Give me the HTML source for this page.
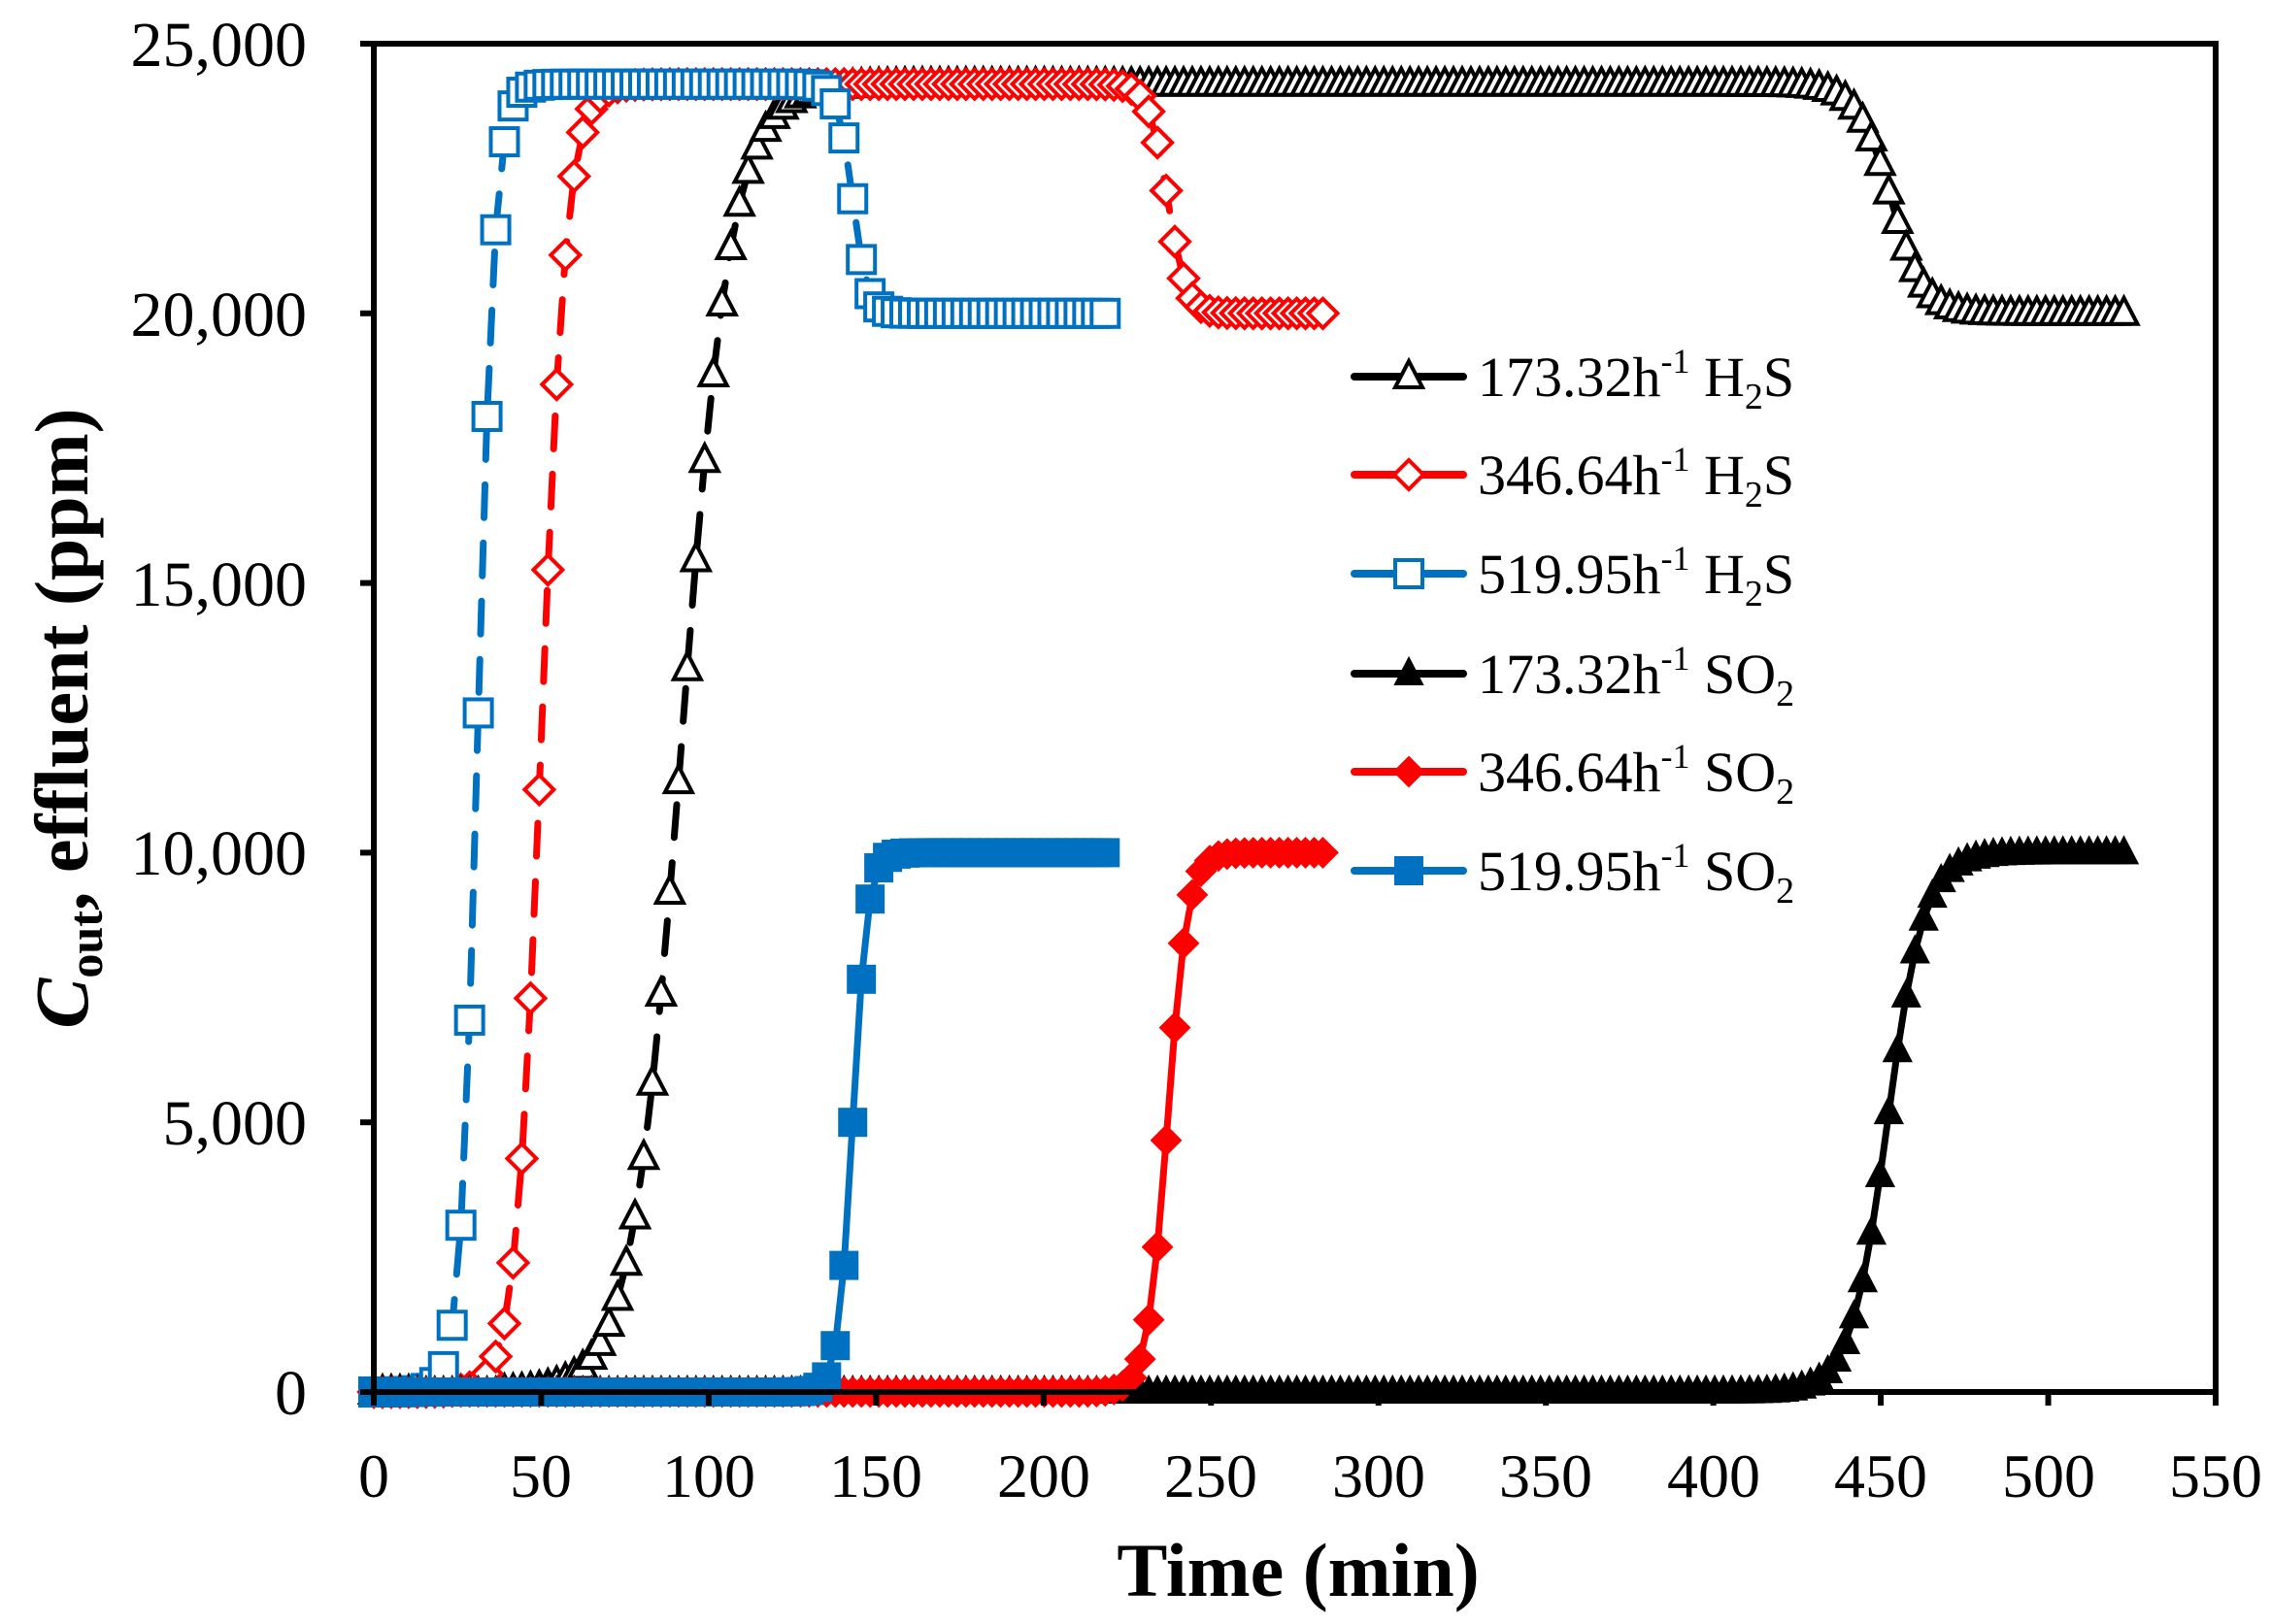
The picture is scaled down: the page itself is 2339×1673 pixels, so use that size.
<!DOCTYPE html>
<html><head><meta charset="utf-8"><style>
body{margin:0;background:#fff}
svg{display:block}
text{font-family:"Liberation Serif",serif;fill:#000}
</style></head><body>
<svg id="s" width="2339" height="1673" viewBox="0 0 2339 1673" xmlns="http://www.w3.org/2000/svg">
<rect width="2339" height="1673" fill="#fff"/>
<g id="data"></g>
<rect x="385" y="45" width="1897" height="1389" fill="none" stroke="#000" stroke-width="6"/>
<g stroke="#000" stroke-width="6" id="ticks"></g>
<g font-size="66" text-anchor="end">
<text x="316" y="1457">0</text>
<text x="316" y="1179">5,000</text>
<text x="316" y="901">10,000</text>
<text x="316" y="624">15,000</text>
<text x="316" y="346">20,000</text>
<text x="316" y="68">25,000</text>
</g>
<g font-size="64" text-anchor="middle">
<text x="385" y="1542">0</text>
<text x="557" y="1542">50</text>
<text x="730" y="1542">100</text>
<text x="902" y="1542">150</text>
<text x="1075" y="1542">200</text>
<text x="1247" y="1542">250</text>
<text x="1420" y="1542">300</text>
<text x="1592" y="1542">350</text>
<text x="1765" y="1542">400</text>
<text x="1937" y="1542">450</text>
<text x="2110" y="1542">500</text>
<text x="2282" y="1542">550</text>
</g>
<text x="1337" y="1644" font-size="78" font-weight="bold" text-anchor="middle">Time (min)</text>
<text transform="translate(90,740) rotate(-90)" font-size="78" font-weight="bold" text-anchor="middle"><tspan font-style="italic">C</tspan><tspan font-size="50" dy="15">out</tspan><tspan dy="-15">, effluent  (ppm)</tspan></text>
<g id="legend"></g>
<g font-size="58">
<text x="1522" y="408">173.32h<tspan font-size="36" dy="-24">-1</tspan><tspan dy="24"> H</tspan><tspan font-size="38" dy="13">2</tspan><tspan dy="-13">S</tspan></text>
<text x="1522" y="509">346.64h<tspan font-size="36" dy="-24">-1</tspan><tspan dy="24"> H</tspan><tspan font-size="38" dy="13">2</tspan><tspan dy="-13">S</tspan></text>
<text x="1522" y="611">519.95h<tspan font-size="36" dy="-24">-1</tspan><tspan dy="24"> H</tspan><tspan font-size="38" dy="13">2</tspan><tspan dy="-13">S</tspan></text>
<text x="1522" y="714">173.32h<tspan font-size="36" dy="-24">-1</tspan><tspan dy="24"> SO</tspan><tspan font-size="38" dy="13">2</tspan></text>
<text x="1522" y="815">346.64h<tspan font-size="36" dy="-24">-1</tspan><tspan dy="24"> SO</tspan><tspan font-size="38" dy="13">2</tspan></text>
<text x="1522" y="917">519.95h<tspan font-size="36" dy="-24">-1</tspan><tspan dy="24"> SO</tspan><tspan font-size="38" dy="13">2</tspan></text>
</g>
</svg>
<script>
(function(){
var NS="http://www.w3.org/2000/svg";
function X(t){return 385+t*3.4491;}
function Y(v){return 1434-v*0.05556;}
function el(n,a,p){var e=document.createElementNS(NS,n);for(var k in a)e.setAttribute(k,a[k]);p.appendChild(e);return e;}
var tk=document.getElementById('ticks');
for(var i=0;i<=5;i++){var y=Y(i*5000);el('line',{x1:371,y1:y,x2:385,y2:y},tk);}
for(var i=0;i<=11;i++){var x=X(i*50);el('line',{x1:x,y1:1434,x2:x,y2:1448},tk);}
function sig(t,m,s){return 1/(1+Math.exp(-(t-m)/s));}
function h2s(m1,s1,m2,s2,end){return {end:end,f:function(t){return 24250*sig(t,m1,s1)-4250*sig(t,m2,s2);}};}
function so2(m,s,end){return {end:end,f:function(t){return 10000*sig(t,m,s);}};}
var BL="#0070C0",RD="#FF0000",BK="#000";
var series=[
 {d:h2s(92,7.5,453,5,525),c:BK,m:'tri',fill:false,dash:true,step:2.6},
 {d:h2s(50,3.8,237,2.8,285),c:RD,m:'dia',fill:false,dash:true,step:2.6},
 {d:h2s(31,2.6,143,2.2,220),c:BL,m:'sq',fill:false,dash:true,step:2.6},
 {d:so2(452,5.5,525),c:BK,m:'tri',fill:true,dash:false,step:2.6},
 {d:so2(237,3,285),c:RD,m:'dia',fill:true,dash:false,step:2.6},
 {d:so2(143,2.2,220),c:BL,m:'sq',fill:true,dash:false,step:2.6}
];
var g=document.getElementById('data');
function marker(type,x,y,c,fill,p){
 var a={stroke:c,'stroke-width':fill?2:4,fill:fill?c:'#fff'};
 if(type==='sq'){a.x=x-14;a.y=y-14;a.width=28;a.height=28;el('rect',a,p);}
 else if(type==='dia'){a.points=(x)+','+(y-15)+' '+(x+15)+','+y+' '+x+','+(y+15)+' '+(x-15)+','+y;el('polygon',a,p);}
 else {a.points=x+','+(y-16)+' '+(x+14)+','+(y+11)+' '+(x-14)+','+(y+11);el('polygon',a,p);}
}
series.forEach(function(s){
 var pts=[];for(var t=0;t<=s.d.end+0.001;t+=s.step)pts.push([X(t),Y(s.d.f(t))]);
 var gg=el('g',{},g);
 var la={points:pts.map(function(p){return p[0].toFixed(1)+','+p[1].toFixed(1);}).join(' '),fill:'none',stroke:s.c,'stroke-width':7,'stroke-linejoin':'round','stroke-linecap':'round'};
 if(s.dash){la['stroke-dasharray']='34 26';}
 el('polyline',la,gg);
 pts.forEach(function(p){marker(s.m,p[0],p[1],s.c,s.fill,gg);});
});
var lg=document.getElementById('legend');
var rows=[388,489,591,694,795,897];
series.forEach(function(s,i){
 var y=rows[i];
 el('line',{x1:1395,y1:y,x2:1507,y2:y,stroke:s.c,'stroke-width':8,'stroke-linecap':'round'},lg);
 marker(s.m,1451,y,s.c,s.fill,lg);
});
})();
</script>
</body></html>
